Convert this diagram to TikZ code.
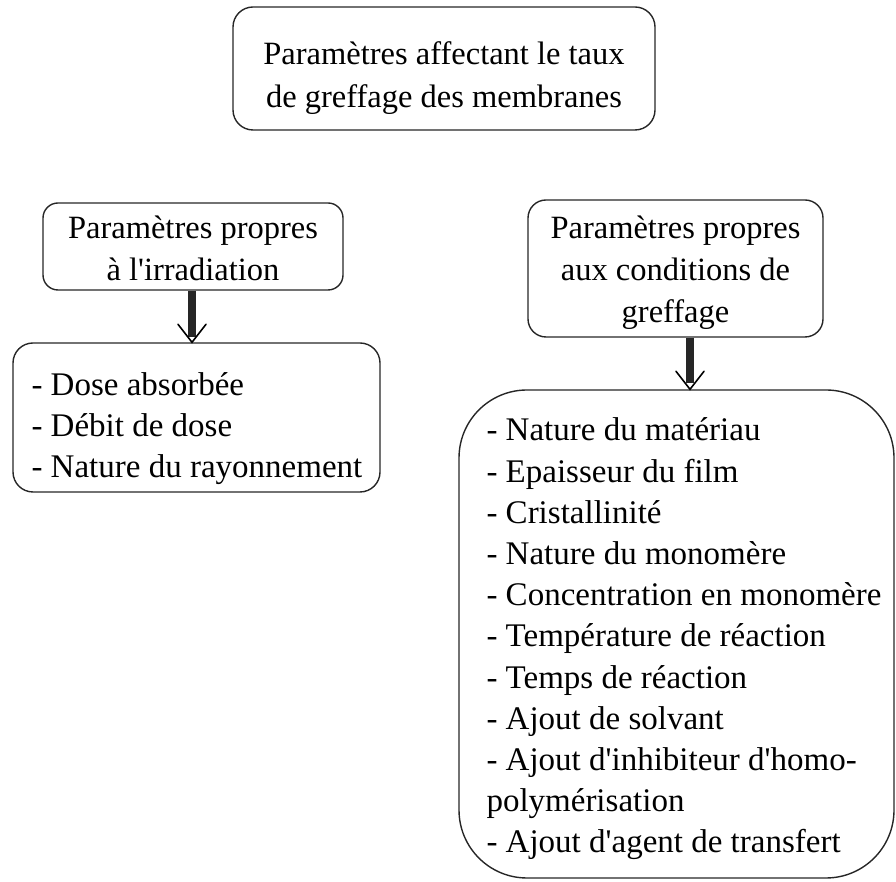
\documentclass[tikz,border=0pt]{standalone}
\usepackage{fontspec}
\setmainfont{Liberation Serif}
\newcommand\aq{\textquotesingle}
\begin{document}
\begin{tikzpicture}[x=1pt,y=1pt,
  box/.style={draw=black!85, line width=1.4pt, rounded corners=#1, inner sep=0pt},
  box/.default=18pt,
  titletext/.style={inner sep=0pt, align=center, font=\fontsize{32.5}{42}\selectfont},
  listtext/.style={inner sep=0pt, align=left, anchor=west,
    font=\fontsize{33}{41.2}\selectfont},
  shaft/.style={line width=8pt, draw=black!85},
  head/.style={line width=1.6pt, draw=black, line cap=round, line join=miter}]
\useasboundingbox (0,0) rectangle (896,882);

% top box
\node[box=20pt, minimum width=422pt, minimum height=123pt] (top) at (444,813.5) {};
\node[titletext, font=\fontsize{32.5}{43}\selectfont] (toptxt) at ([yshift=-10pt]top.center)
  {Paramètres affectant le taux\\de greffage des membranes};

% left branch
\node[box=15pt, minimum width=300pt, minimum height=87pt] (lt) at (193,635.5) {};
\node[titletext] (lttxt) at ([yshift=-2pt]lt.center)
  {Paramètres propres\\à l\aq irradiation};
\node[box=20pt, minimum width=367pt, minimum height=149pt] (ll) at (196.5,464.5) {};
\node[listtext] (lltxt) at ([xshift=19pt,yshift=-11pt]ll.west)
  {- Dose absorbée\\- Débit de dose\\- Nature du rayonnement};

% right branch
\node[box=18pt, minimum width=295pt, minimum height=137pt] (rt) at (675.5,613.5) {};
\node[titletext] (rttxt) at ([yshift=-4pt]rt.center)
  {Paramètres propres\\aux conditions de\\greffage};
\node[box=68pt, minimum width=435pt, minimum height=488pt] (rl) at (676.5,248) {};
\node[listtext] (rltxt) at ([xshift=28pt,yshift=-5pt]rl.west)
  {- Nature du matériau\\- Epaisseur du film\\- Cristallinité\\- Nature du monomère\\%
   - Concentration en monomère\\- Température de réaction\\- Temps de réaction\\%
   - Ajout de solvant\\- Ajout d\aq inhibiteur d\aq homo-\\polymérisation\\%
   - Ajout d\aq agent de transfert};

% arrows
\coordinate (la) at ([xshift=-1pt]lt.south);
\coordinate (ltip) at (la |- ll.north);
\draw[shaft] (la) -- ([yshift=5pt]ltip);
\draw[head] ([shift={(-14pt,18pt)}]ltip) -- (ltip) -- ([shift={(14pt,18pt)}]ltip);
\coordinate (ra) at ([xshift=14.5pt]rt.south);
\coordinate (rtip) at (ra |- rl.north);
\draw[shaft] (ra) -- ([yshift=6pt]rtip);
\draw[head] ([shift={(-14pt,18pt)}]rtip) -- (rtip) -- ([shift={(14pt,18pt)}]rtip);
\end{tikzpicture}
\end{document}
